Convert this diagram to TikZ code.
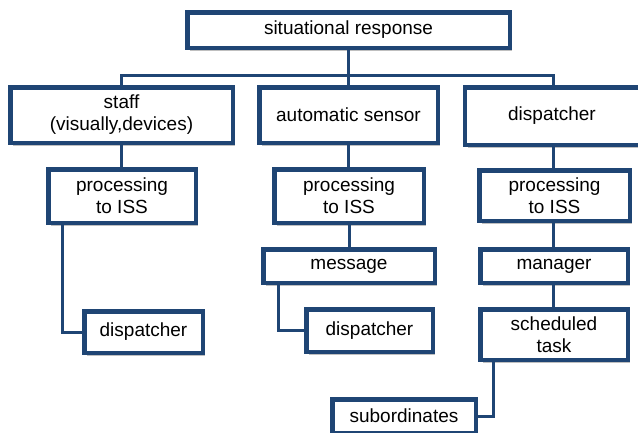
\documentclass[tikz,border=0pt]{standalone}
\usepackage{fontspec}
\setmainfont{Liberation Sans}
\usetikzlibrary{shadows}
\definecolor{navy}{HTML}{1F4574}
\tikzset{
  box/.style={draw=navy, line width=4.5pt, fill=white, inner sep=0pt, outer sep=0pt,
    align=center, font=\fontsize{19}{22}\selectfont,
    drop shadow={shadow xshift=2.5pt, shadow yshift=-3pt, opacity=0.25, fill=black}},
  conn/.style={draw=navy, line width=3pt}
}
\begin{document}
\begin{tikzpicture}[x=1pt,y=-1pt]
\clip (0,0) rectangle (638,432);
\fill[white] (0,0) rectangle (638,432);
% boxes
\node[box, minimum width=322.5pt, minimum height=35.5pt] (top) at (348.5,30) {situational response};
\node[box, minimum width=222.5pt, minimum height=55.5pt] (staff) at (121.5,115) {staff\\(visually,devices)};
\node[box, minimum width=178.5pt, minimum height=55.5pt] (auto) at (348.5,115) {automatic sensor};
\node[box, minimum width=180pt, minimum height=57.5pt] (disp0) at (555,116) {\hspace*{-6pt}dispatcher};
\node[box, minimum width=147.5pt, minimum height=53.5pt] (proc1) at (122,196) {processing\\to ISS};
\node[box, minimum width=118.5pt, minimum height=41.5pt] (disp1) at (143.5,332) {dispatcher};
\node[box, minimum width=149.5pt, minimum height=53.5pt] (proc2) at (349,196) {processing\\to ISS};
\node[box, minimum width=171.5pt, minimum height=33.5pt] (msg) at (349,266) {message};
\node[box, minimum width=126.5pt, minimum height=42.5pt] (disp2) at (369.5,330.5) {dispatcher};
\node[box, minimum width=150.5pt, minimum height=50.5pt] (proc3) at (554.5,195.5) {processing\\to ISS};
\node[box, minimum width=147.5pt, minimum height=33.5pt] (mgr) at (554,266) {manager};
\node[box, minimum width=147.5pt, minimum height=50.5pt] (sched) at (554,334.5) {scheduled\\task};
\node[box, minimum width=143.5pt, minimum height=33.5pt] (sub) at (404,416) {subordinates};
\coordinate (bus) at (348.5,75);
% connectors
\draw[conn] (top.south) -- (auto.north);
\draw[conn] (staff.north) |- (bus) -| ([xshift=-2pt]disp0.north);
\draw[conn] (staff.south) -- (staff.south |- proc1.north);
\draw[conn] ([xshift=-60pt]proc1.south) |- (disp1.west);
\draw[conn] (auto.south) -- (auto.south |- proc2.north);
\draw[conn] (proc2.south) -- (proc2.south |- msg.north);
\draw[conn] ([xshift=-71pt]msg.south) |- (disp2.west);
\draw[conn] ([xshift=-2pt]disp0.south) -- ([xshift=-2pt]disp0.south |- proc3.north);
\draw[conn] ([xshift=-1.5pt]proc3.south) -- ([xshift=-1.5pt]proc3.south |- mgr.north);
\draw[conn] ([xshift=-1pt]mgr.south) -- ([xshift=-1pt]mgr.south |- sched.north);
\draw[conn] ([xshift=-61pt]sched.south) |- (sub.east);
\end{tikzpicture}
\end{document}
